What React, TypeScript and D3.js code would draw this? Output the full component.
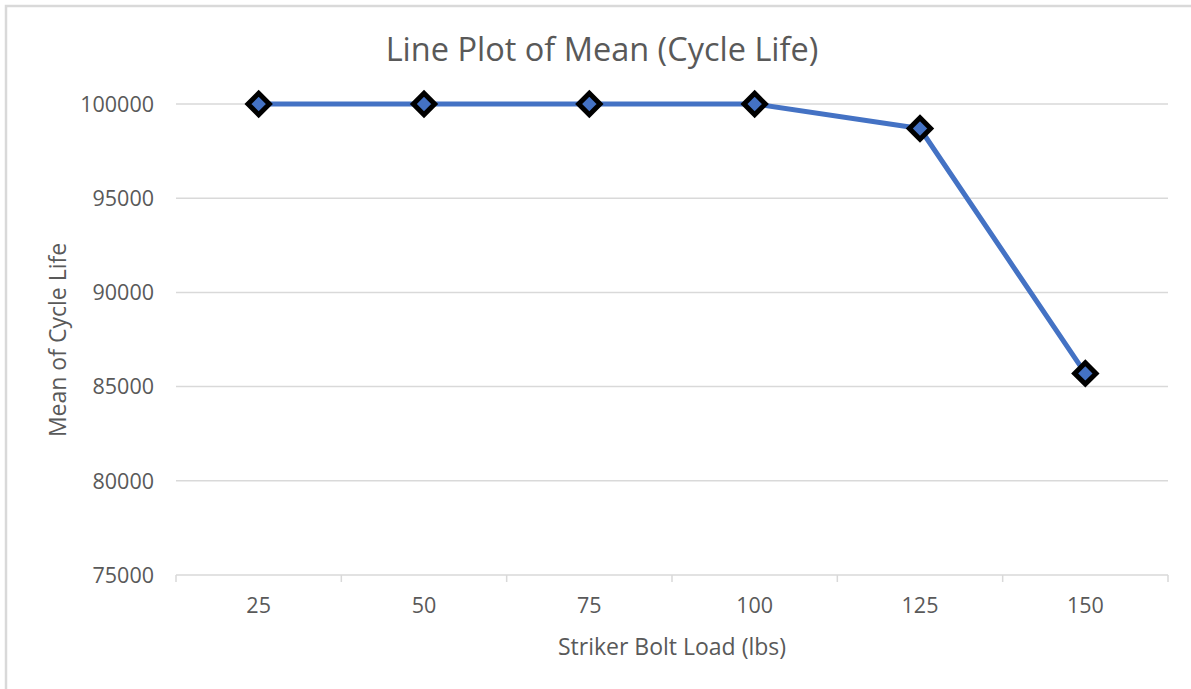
import React, { useEffect, useRef } from "react";
import * as d3 from "d3";

const categories: string[] = ["25", "50", "75", "100", "125", "150"];
const meanCycleLife: number[] = [100000, 100000, 100000, 100000, 98700, 85700];
const yTicks: number[] = [75000, 80000, 85000, 90000, 95000, 100000];

const W = 1191;
const H = 689;

export default function App() {
  const ref = useRef<SVGSVGElement | null>(null);

  useEffect(() => {
    const svg = d3.select(ref.current);
    svg.selectAll("*").remove();

    const left = 176, right = 1168, top = 104, bottom = 575;
    const font = "'Open Sans', 'Noto Sans', sans-serif";
    const textColor = "#595959";
    const gridColor = "#d9d9d9";

    svg.append("rect").attr("x", 0).attr("y", 0).attr("width", W).attr("height", H).attr("fill", "#fff");
    svg.append("rect")
      .attr("x", 6).attr("y", 6).attr("width", W + 10).attr("height", H + 10)
      .attr("fill", "none").attr("stroke", "#d9d9d9").attr("stroke-width", 2.5);

    const x = d3.scaleBand<string>().domain(categories).range([left, right]);
    const y = d3.scaleLinear().domain([75000, 100000]).range([bottom, top]);

    // gridlines
    svg.append("g").selectAll("line").data(yTicks.filter(t => t !== 75000)).join("line")
      .attr("x1", left).attr("x2", right)
      .attr("y1", d => y(d)).attr("y2", d => y(d))
      .attr("stroke", gridColor).attr("stroke-width", 1.5);

    // x axis line
    svg.append("line").attr("x1", left).attr("x2", right).attr("y1", y(75000)).attr("y2", y(75000))
      .attr("stroke", gridColor).attr("stroke-width", 1.5);
    const boundaries = categories.map(c => x(c)!).concat([right]);
    svg.append("g").selectAll("line").data(boundaries).join("line")
      .attr("x1", d => d).attr("x2", d => d)
      .attr("y1", y(75000)).attr("y2", y(75000) + 7)
      .attr("stroke", gridColor).attr("stroke-width", 1.5);

    // y tick labels
    svg.append("g").selectAll("text").data(yTicks).join("text")
      .attr("x", 154).attr("y", d => y(d)).attr("dy", "0.36em")
      .attr("text-anchor", "end").attr("font-family", font).attr("font-size", 21.5)
      .attr("fill", textColor).text(d => String(d));

    // x tick labels
    svg.append("g").selectAll("text").data(categories).join("text")
      .attr("x", d => x(d)! + x.bandwidth() / 2).attr("y", 605).attr("dy", "0.36em")
      .attr("text-anchor", "middle").attr("font-family", font).attr("font-size", 21.5)
      .attr("fill", textColor).text(d => d);

    // line
    const pts: [number, number][] = categories.map((c, i) => [x(c)! + x.bandwidth() / 2, y(meanCycleLife[i])]);
    svg.append("path").attr("d", d3.line()(pts)!)
      .attr("fill", "none").attr("stroke", "#4472C4").attr("stroke-width", 5)
      .attr("stroke-linejoin", "round");

    // markers
    const sym = d3.symbol().type(d3.symbolDiamond2).size(290);
    svg.append("g").selectAll("path").data(pts).join("path")
      .attr("transform", d => `translate(${d[0]},${d[1]})`)
      .attr("d", sym()!)
      .attr("fill", "#4472C4").attr("stroke", "#000").attr("stroke-width", 5)
      .attr("stroke-linejoin", "miter");

    // title
    svg.append("text").attr("x", 602).attr("y", 61)
      .attr("text-anchor", "middle").attr("font-family", font).attr("font-size", 32.5)
      .attr("fill", textColor).text("Line Plot of Mean (Cycle Life)");

    // axis titles
    svg.append("text").attr("x", 672).attr("y", 647).attr("dy", "0.36em")
      .attr("text-anchor", "middle").attr("font-family", font).attr("font-size", 23)
      .attr("fill", textColor).text("Striker Bolt Load (lbs)");

    svg.append("text").attr("transform", `translate(58,340) rotate(-90)`)
      .attr("dy", "0.36em")
      .attr("text-anchor", "middle").attr("font-family", font).attr("font-size", 23)
      .attr("fill", textColor).text("Mean of Cycle Life");
  }, []);

  return (
    <svg ref={ref} width={W} height={H}
      style={{ position: "absolute", left: 0, top: 0, display: "block" }} />
  );
}
